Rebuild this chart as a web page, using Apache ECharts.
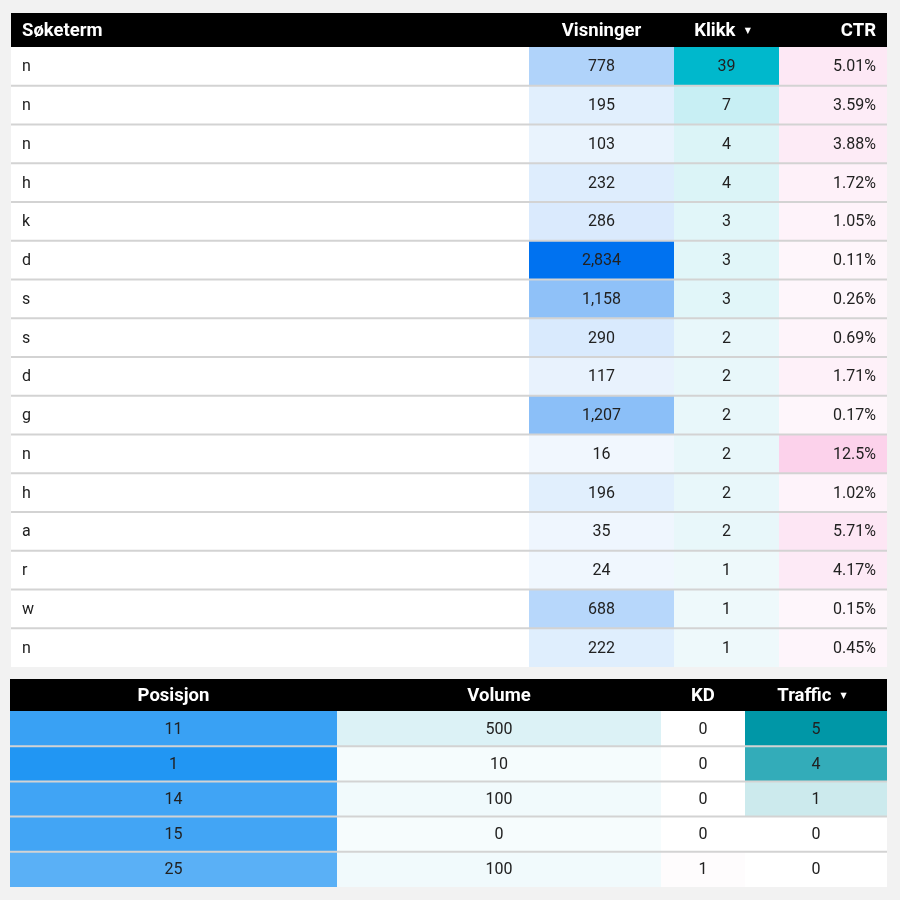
<!DOCTYPE html>
<html>
<head>
<meta charset="utf-8">
<script src="https://cdn.jsdelivr.net/npm/echarts@6/dist/echarts.min.js"></script>
<style>
html,body{margin:0;padding:0;background:#f2f2f2;}
#chart{width:900px;height:900px;}
</style>
</head>
<body>
<div id="chart"></div>
<script>
// ---- Data ----
const terms = ['n','n','n','h','k','d','s','s','d','g','n','h','a','r','w','n'];
const visninger = [778,195,103,232,286,2834,1158,290,117,1207,16,196,35,24,688,222];
const klikk = [39,7,4,4,3,3,3,2,2,2,2,2,2,1,1,1];
const ctr = [5.01,3.59,3.88,1.72,1.05,0.11,0.26,0.69,1.71,0.17,12.5,1.02,5.71,4.17,0.15,0.45];
const topHeaders = ['Søketerm','Visninger','Klikk','CTR'];

const posisjon = [11,1,14,15,25];
const volume = [500,10,100,0,100];
const kd = [0,0,0,0,1];
const traffic = [5,4,1,0,0];
const bottomHeaders = ['Posisjon','Volume','KD','Traffic'];

// ---- Layout ----
const FONT = 'Roboto, "Noto Sans", sans-serif';
const CELL_FS = 16, HEAD_FS = 18.5;
const topTable = {
  headerTop: 13, headerH: 34, bodyTop: 47, bodyH: 620,
  cols: [
    {x0: 11, x1: 529, align: 'left', values: terms.map(() => 0), text: i => terms[i], colors: null},
    {x0: 529, x1: 674, align: 'center', values: visninger, text: i => visninger[i].toLocaleString('en-US'), colors: ['#f2f8fe', '#0072f0'], min: 0, max: 2834},
    {x0: 674, x1: 779, align: 'center', values: klikk, text: i => String(klikk[i]), colors: ['#eef9fb', '#00b8cc'], min: 1, max: 39, arrow: true},
    {x0: 779, x1: 887, align: 'right', values: ctr, text: i => ctr[i] + '%', colors: ['#fef6fb', '#fcd2eb'], min: 0.11, max: 12.5}
  ],
  headers: topHeaders,
  headerAligns: ['left', 'center', 'center', 'right']
};
const bottomTable = {
  headerTop: 679, headerH: 32, bodyTop: 711, bodyH: 176,
  cols: [
    {x0: 10, x1: 337, align: 'center', values: posisjon, text: i => String(posisjon[i]), colors: ['#2196f3', '#5ab0f6'], min: 1, max: 25},
    {x0: 337, x1: 661, align: 'center', values: volume, text: i => String(volume[i]), colors: ['#f6fcfd', '#dcf2f6'], min: 0, max: 500},
    {x0: 661, x1: 745, align: 'center', values: kd, text: i => String(kd[i]), colors: ['#ffffff', '#fefcfd'], min: 0, max: 1},
    {x0: 745, x1: 887, align: 'center', values: traffic, text: i => String(traffic[i]), colors: ['#ffffff', '#0097a7'], min: 0, max: 5, arrow: true}
  ],
  headers: bottomHeaders,
  headerAligns: ['center', 'center', 'center', 'center']
};

const grids = [], xAxes = [], yAxes = [], series = [], visualMaps = [], graphics = [];

function addTable(tbl) {
  const nRows = tbl.cols[0].values.length;
  const rowCats = Array.from({length: nRows}, (_, i) => String(i));
  graphics.push({
    type: 'rect', left: tbl.cols[0].x0, top: tbl.headerTop, silent: true,
    shape: {width: tbl.cols[tbl.cols.length - 1].x1 - tbl.cols[0].x0, height: tbl.headerH},
    style: {fill: '#000000'}
  });
  tbl.cols.forEach((col, ci) => {
    const gi = grids.length;
    grids.push({left: col.x0, top: tbl.bodyTop, width: col.x1 - col.x0, height: tbl.bodyH});
    xAxes.push({type: 'category', gridIndex: gi, data: [tbl.headers[ci]], show: false});
    yAxes.push({type: 'category', gridIndex: gi, data: rowCats, inverse: true, show: false});
    const si = series.length;
    const hasColor = !!col.colors;
    series.push({
      type: 'custom', xAxisIndex: gi, yAxisIndex: gi, silent: true,
      encode: {x: 0, y: 1},
      data: col.values.map((v, i) => [0, i, v]),
      renderItem: function (params, api) {
        const i = params.dataIndex;
        const p = api.coord([api.value(0), api.value(1)]);
        const s = api.size([1, 1]);
        const x = p[0] - s[0] / 2, y = p[1] - s[1] / 2;
        const fill = hasColor ? api.visual('color') : '#ffffff';
        const children = [{
          type: 'rect', shape: {x: x, y: y, width: s[0], height: s[1]},
          style: {fill: fill}
        }];
        if (i > 0) {
          children.push({
            type: 'rect', shape: {x: x, y: y - 1, width: s[0], height: 2},
            style: {fill: '#d3d3d3'}
          });
        }
        let tx = p[0];
        if (col.align === 'left') tx = x + 11;
        if (col.align === 'right') tx = x + s[0] - 11;
        children.push({
          type: 'text',
          style: {
            text: col.text(i), x: tx, y: p[1] + 1,
            align: col.align, verticalAlign: 'middle',
            fontSize: CELL_FS, fontFamily: FONT, fill: '#212121'
          }
        });
        return {type: 'group', children: children};
      }
    });
    if (hasColor) {
      visualMaps.push({
        type: 'continuous', show: false, seriesIndex: si, dimension: 2,
        min: col.min, max: col.max, inRange: {color: col.colors}
      });
    }
    const align = tbl.headerAligns[ci];
    let hx = (col.x0 + col.x1) / 2;
    if (align === 'left') hx = col.x0 + 11;
    if (align === 'right') hx = col.x1 - 11;
    if (col.arrow) hx -= 4;
    graphics.push({
      type: 'text', x: hx, y: tbl.headerTop + tbl.headerH / 2 + 1, silent: true,
      style: {
        text: tbl.headers[ci] + (col.arrow ? '  {a|▼}' : ''),
        align: align, verticalAlign: 'middle',
        fontSize: HEAD_FS, fontWeight: 'bold', fontFamily: FONT, fill: '#ffffff',
        rich: {a: {fontSize: 8, fill: '#ffffff', fontFamily: 'DejaVu Sans', verticalAlign: 'middle'}}
      }
    });
  });
}

addTable(topTable);
addTable(bottomTable);

const chart = echarts.init(document.getElementById('chart'), null, {renderer: 'canvas'});
chart.setOption({
  backgroundColor: '#f2f2f2',
  animation: false,
  grid: grids,
  xAxis: xAxes,
  yAxis: yAxes,
  visualMap: visualMaps,
  series: series,
  graphic: graphics
});
</script>
</body>
</html>
